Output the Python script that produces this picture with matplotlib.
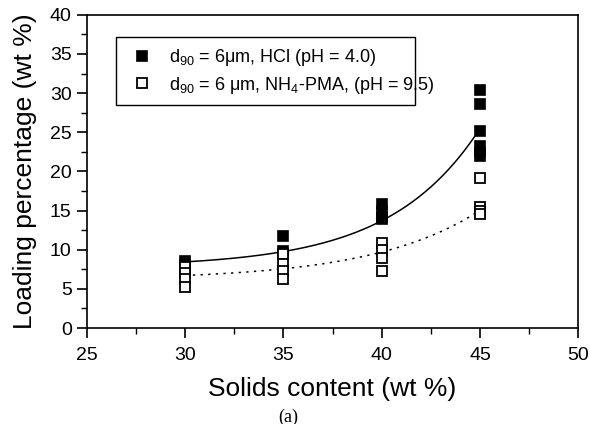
import numpy as np
import matplotlib.pyplot as plt
from matplotlib.patches import Rectangle

plt.rcParams['font.family'] = ['Liberation Sans', 'DejaVu Sans']
plt.rcParams['mathtext.fontset'] = 'custom'
plt.rcParams['mathtext.rm'] = 'Liberation Sans'
plt.rcParams['mathtext.it'] = 'Liberation Sans'

# ---- data ----
hcl_x = [30, 30, 35, 35, 40, 40, 40, 40, 45, 45, 45, 45, 45, 45]
hcl_y = [8.5, 8.0, 11.8, 9.8, 15.8, 15.0, 14.2, 13.9, 30.4, 28.6, 25.2, 23.2, 22.5, 22.0]
pma_x = [30, 30, 30, 30, 35, 35, 35, 35, 40, 40, 40, 40, 45, 45, 45, 45]
pma_y = [7.8, 7.0, 6.3, 5.3, 9.5, 8.2, 7.3, 6.3, 10.8, 10.0, 9.0, 7.3, 19.2, 15.5, 15.0, 14.6]

# fitted curves
fit_x = [30, 35, 40, 45]
hcl_fit = [8.3, 10.0, 13.6, 25.5]
pma_fit = [6.8, 7.4, 9.8, 15.0]

hcl_label = 'd$_{90}$ = 6\u03bcm, HCl (pH = 4.0)'
pma_label = 'd$_{90}$ = 6 \u03bcm, NH$_4$-PMA, (pH = 9.5)'


def exp_fit(x, y):
    # y = y0 + A*exp(x/t), grid search on t, linear least squares for y0, A
    x = np.asarray(x, float)
    y = np.asarray(y, float)
    best = None
    for t in np.linspace(1, 40, 800):
        M = np.column_stack([np.ones_like(x), np.exp(x / t)])
        coef = np.linalg.lstsq(M, y, rcond=None)[0]
        err = np.sum((M @ coef - y) ** 2)
        if best is None or err < best[0]:
            best = (err, t, coef)
    _, t, coef = best
    return lambda xx: coef[0] + coef[1] * np.exp(xx / t)


fig = plt.figure(figsize=(5.9, 4.24), dpi=100)
ax = fig.add_axes([0.1475, 0.2264, 0.8325, 0.7386])

xs = np.linspace(30, 45, 200)
f1 = exp_fit(fit_x, hcl_fit)
f2 = exp_fit(fit_x, pma_fit)
ax.plot(xs, f1(xs), color='black', lw=1.1)
ax.plot(xs, f2(xs), color='black', lw=1.1, dashes=(1.5, 3.5))

ax.plot(hcl_x, hcl_y, 's', ms=7.5, mfc='black', mec='black', mew=1.2, ls='none', label=hcl_label)
ax.plot(pma_x, pma_y, 's', ms=7.5, mfc='white', mec='black', mew=1.3, ls='none', label=pma_label)

ax.set_xlim(25, 50)
ax.set_ylim(0, 40)
ax.set_xticks([25, 30, 35, 40, 45, 50])
ax.set_xticks(np.arange(27.5, 50, 5), minor=True)
ax.set_yticks(np.arange(0, 41, 5))
ax.set_yticks(np.arange(2.5, 40, 5), minor=True)
ax.tick_params(which='major', direction='out', length=7, width=1.2, labelsize=14, pad=4)
ax.tick_params(axis='x', which='major', pad=7)
ax.tick_params(which='minor', direction='out', length=4.3, width=1.0)
for s in ax.spines.values():
    s.set_linewidth(1.2)

ax.set_xlabel('Solids content (wt %)', fontsize=19, labelpad=9)
ax.set_ylabel('Loading percentage (wt %)', fontsize=19, labelpad=9)

leg = ax.legend(loc='upper left', bbox_to_anchor=(0.056, 0.925), fontsize=13,
                frameon=False, handletextpad=0.5, labelspacing=0.35, borderaxespad=0,
                borderpad=0.5)
ax.add_patch(Rectangle((0.059, 0.712), 0.609, 0.218, transform=ax.transAxes,
                       fill=False, ec='black', lw=1.0, zorder=5))

fig.text(0.488, 0.006, '(a)', fontsize=13, family='Liberation Serif', ha='center')

fig.savefig('out.png', dpi=100)
